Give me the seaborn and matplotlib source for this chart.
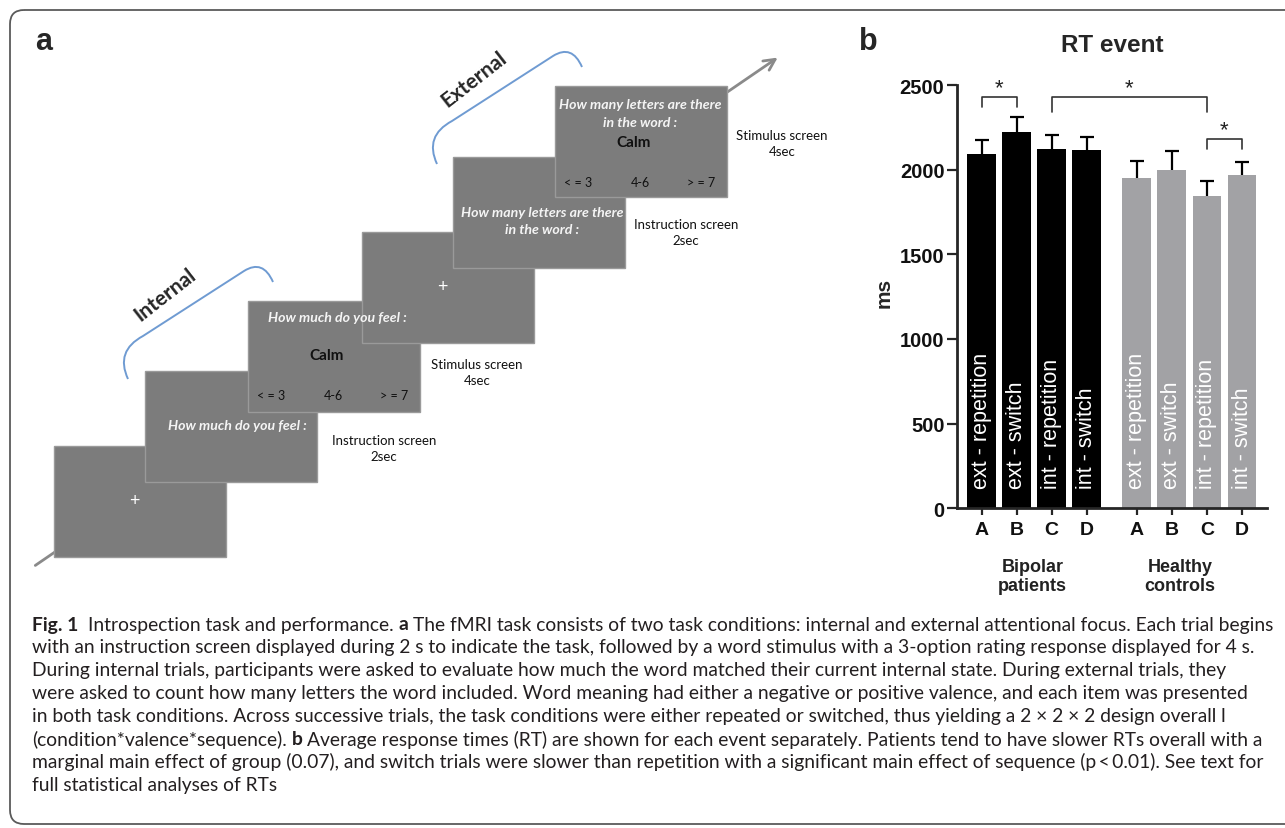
import numpy as np
import pandas as pd
import matplotlib.pyplot as plt
import matplotlib.patches as mpatches
from matplotlib.path import Path
import seaborn as sns

# Panel b data: mean RT (ms) and upper error per event
groups = ["Bipolar patients"] * 4 + ["Healthy controls"] * 4
conditions = ["A", "B", "C", "D", "A", "B", "C", "D"]
bar_labels = ["ext - repetition", "ext - switch", "int - repetition", "int - switch"] * 2
rt_mean = [2090, 2222, 2122, 2116, 1950, 2000, 1847, 1968]
rt_err = [86, 88, 83, 74, 103, 113, 87, 80]

# significance brackets: (bar i, bar j, bracket height, leg end)
sig_brackets = [(0, 1, 2429, 2370), (2, 6, 2429, 2340), (6, 7, 2181, 2122)]

caption_lines = [
    "**Fig. 1**  Introspection task and performance. **a** The fMRI task consists of two task conditions: internal and external attentional focus. Each trial begins",
    "with an instruction screen displayed during 2 s to indicate the task, followed by a word stimulus with a 3-option rating response displayed for 4 s.",
    "During internal trials, participants were asked to evaluate how much the word matched their current internal state. During external trials, they",
    "were asked to count how many letters the word included. Word meaning had either a negative or positive valence, and each item was presented",
    "in both task conditions. Across successive trials, the task conditions were either repeated or switched, thus yielding a 2 × 2 × 2 design overall l",
    "(condition*valence*sequence). **b** Average response times (RT) are shown for each event separately. Patients tend to have slower RTs overall with a",
    "marginal main effect of group (0.07), and switch trials were slower than repetition with a significant main effect of sequence (p\u2009<\u20090.01). See text for",
    "full statistical analyses of RTs",
]

sns.set_style("ticks")
plt.rcParams["font.family"] = ["Liberation Sans", "DejaVu Sans"]

W, H = 1285, 829
fig = plt.figure(figsize=(W / 100, H / 100), dpi=100)
bg = fig.add_axes([0, 0, 1, 1])
bg.set_xlim(0, W)
bg.set_ylim(H, 0)
bg.axis("off")

# outer frame
bg.add_patch(mpatches.FancyBboxPatch((10, 11), 1300, 814, boxstyle="round,pad=0,rounding_size=14",
                                     fc="none", ec="#5a5a5a", lw=1.3))
bg.text(44, 42, "a", fontsize=22, fontweight="bold", ha="center", va="center")
fig.text(868 / W, 1 - 42 / H, "b", fontsize=22, fontweight="bold", ha="center", va="center")

# ---- panel a: task diagram ----
cal = ["Lato", "DejaVu Sans"]
bg.annotate("", xy=(780, 57), xytext=(33, 568), zorder=1,
            arrowprops=dict(arrowstyle="->", color="#8a8a8a", lw=2, mutation_scale=20))

def brace(dx, dy):
    v = [(437, 165), (424, 137), (452, 122), (553, 57), (572, 45), (582, 68)]
    c = [Path.MOVETO, Path.CURVE3, Path.CURVE3, Path.LINETO, Path.CURVE3, Path.CURVE3]
    p = Path([(x + dx, y + dy) for x, y in v], c)
    bg.add_patch(mpatches.PathPatch(p, fc="none", ec="#6f9bd2", lw=1.4, zorder=2))

brace(0, 0)
brace(-309, 215)
bg.text(474, 80, "External", family=cal, fontsize=15, fontweight="bold", rotation=38,
        ha="center", va="center")
bg.text(165, 295, "Internal", family=cal, fontsize=15, fontweight="bold", rotation=38,
        ha="center", va="center")

sw, sh = 172, 111
screens = [(54, 447, "fix"), (145, 372, "instr_int"), (248, 302, "stim_int"),
           (362, 233, "fix"), (453, 158, "instr_ext"), (555, 87, "stim_ext")]
prompt = dict(family=cal, fontsize=10.2, fontweight="bold", style="italic", color="#f4f4f4",
              ha="center", va="center", zorder=4)
small = dict(family=cal, fontsize=9, color="#111111", ha="center", va="center", zorder=4)
for x0, y0, kind in screens:
    bg.add_patch(mpatches.Rectangle((x0, y0), sw, sh, fc="#7c7c7c", ec="#9a9a9a", lw=1, zorder=3))
    if kind == "fix":
        bg.text(x0 + 80, y0 + 54, "+", family=cal, fontsize=13, color="white",
                ha="center", va="center", zorder=4)
    elif kind == "instr_int":
        bg.text(x0 + 92, y0 + 54, "How much do you feel :", **prompt)
    elif kind == "stim_int":
        bg.text(x0 + 89, y0 + 16, "How much do you feel :", **prompt)
    elif kind == "instr_ext":
        bg.text(x0 + 89, y0 + 55, "How many letters are there", **prompt)
        bg.text(x0 + 89, y0 + 72, "in the word :", **prompt)
    else:
        bg.text(x0 + 85, y0 + 18, "How many letters are there", **prompt)
        bg.text(x0 + 85, y0 + 36, "in the word :", **prompt)
    if kind.startswith("stim"):
        oy = 94 if kind == "stim_int" else 96
        bg.text(x0 + 79, y0 + oy - 40, "Calm", family=cal, fontsize=11, fontweight="bold",
                color="#111111", ha="center", va="center", zorder=4)
        for ox, s in zip([23, 85, 146], ["< = 3", "4-6", "> = 7"]):
            bg.text(x0 + ox, y0 + oy, s, **small)

for x, y, s in [(384, 449, "Instruction screen\n2sec"), (477, 373, "Stimulus screen\n4sec"),
                (686, 233, "Instruction screen\n2sec"), (782, 144, "Stimulus screen\n4sec")]:
    bg.text(x, y, s, family=cal, fontsize=9.5, color="#111111", ha="center", va="center",
            linespacing=1.45)

# ---- panel b: bar chart ----
x_pos = np.arange(8) + np.repeat([0, 0.425], 4)
df = pd.DataFrame({"pos": x_pos, "rt": rt_mean, "group": groups})

ax = fig.add_axes([957 / W, 1 - 509.3 / H, 310 / W, 423.3 / H])
sns.barplot(data=df, x="pos", y="rt", hue="group", palette=["black", "#a2a2a5"],
            native_scale=True, width=0.82, errorbar=None, legend=False, saturation=1,
            linewidth=0, ax=ax)

means = np.array(rt_mean)
tops = means + np.array(rt_err)
ax.vlines(x_pos, means, tops, color="black", lw=1.6, zorder=3)
ax.hlines(tops, x_pos - 0.2, x_pos + 0.2, color="black", lw=1.6, zorder=3)

for x, s in zip(x_pos, bar_labels):
    ax.text(x, 120, s, rotation=90, ha="center", va="bottom", color="white", fontsize=15.5,
            zorder=4)

for i, j, yb, leg in sig_brackets:
    xi, xj = x_pos[i], x_pos[j]
    ax.plot([xi, xi, xj, xj], [leg, yb, yb, leg], color="#333333", lw=1.2, clip_on=False)
    ax.text((xi + xj) / 2, yb + 20, "*", ha="center", va="baseline", fontsize=16,
            color="#222222", clip_on=False)

ax.set_xlim(-0.70, 8.137)
ax.set_ylim(0, 2500)
ax.set_xticks(x_pos, conditions)
ax.set_yticks(range(0, 2501, 500))
ax.set_xlabel("")
ax.set_ylabel("")
sns.despine(ax=ax)
for sp in ["left", "bottom"]:
    ax.spines[sp].set_linewidth(2)
ax.tick_params(axis="y", length=7, width=1.6, pad=2, labelsize=14.5)
ax.tick_params(axis="x", length=5, width=1.6, pad=4.5, labelsize=14)
for lab in ax.get_xticklabels() + ax.get_yticklabels():
    lab.set_fontweight("bold")
    lab.set_color("#111111")

ax.text((884 - 957) / 310, (509.3 - 293) / 423.3, "ms", rotation=90, ha="center", va="center",
        fontsize=15, fontweight="bold", transform=ax.transAxes)
ax.text(0.5, (509.3 - 45) / 423.3, "RT event", ha="center", va="center", fontsize=17.5,
        fontweight="bold", transform=ax.transAxes)
grp_y = (509.3 - 577) / 423.3
for gx, s in [(1.45, "Bipolar\npatients"), (5.66, "Healthy\ncontrols")]:
    ax.text(gx, grp_y, s, ha="center", va="center", fontsize=13, fontweight="bold",
            linespacing=1.1, color="#222222", transform=ax.get_xaxis_transform())

# ---- caption ----
fig.canvas.draw()
rend = fig.canvas.get_renderer()

def width_of(s, **kw):
    t = bg.text(0, 0, s, **kw)
    w = t.get_window_extent(rend).width
    t.remove()
    return w

cap = dict(family=cal, color="#231f20", va="center")
plain1 = caption_lines[0].replace("**", "")
cap_size = 12 * 1236 / width_of(plain1, fontsize=12, **cap)
space = width_of("x x", fontsize=cap_size, **cap) - width_of("xx", fontsize=cap_size, **cap)

for k, line in enumerate(caption_lines):
    y = 625 + 22.9 * k
    x = 32
    for n, piece in enumerate(line.split("**")):
        if not piece:
            continue
        lead = len(piece) - len(piece.lstrip(" "))
        trail = len(piece) - len(piece.rstrip(" "))
        x += lead * space
        txt = piece.strip(" ")
        w = width_of(txt, fontsize=cap_size, fontweight="bold" if n % 2 else "normal", **cap)
        bg.text(x, y, txt, fontsize=cap_size, fontweight="bold" if n % 2 else "normal", **cap)
        x += w + trail * space

fig.savefig("out.png", dpi=100)
